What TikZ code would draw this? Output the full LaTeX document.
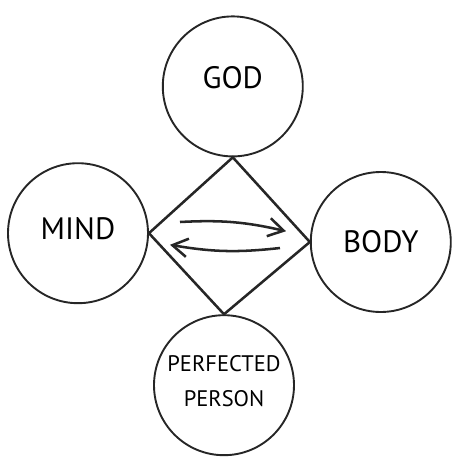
\documentclass[tikz,border=0pt]{standalone}
\usepackage{fontspec}
\setmainfont{PT Sans}
\usepackage{tikz}
\usetikzlibrary{arrows.meta,positioning}

\begin{document}
\begin{tikzpicture}[>={Straight Barb[length=3.8mm,width=4.6mm]}]
\tikzstyle{n}=[circle,draw=black!85,line width=1.35pt,minimum size=3.5cm,inner sep=0pt,align=center,font=\fontsize{22}{26}\selectfont]
\useasboundingbox (0,0) rectangle (11.325,-11.475);
\node[n] (god) at (5.82,-2.16) {\raisebox{1.2ex}{GOD}};
\node[n] (mind) at (1.95,-5.83) {\raisebox{0.6ex}{MIND}};
\node[n] (body) at (9.52,-6.05) {BODY};
\node[n,font=\fontsize{16}{25}\selectfont] (person) at (5.6,-9.63) {PERFECTED\\PERSON\\[-19pt]};
% diamond between the four circles
\draw[black!85,line width=1.8pt,line join=miter] (god.south) -- (body.west) -- (person.north) -- (mind.east) -- cycle;
\coordinate (a1) at (4.5,-5.55);
\coordinate (a2) at (7.15,-5.78);
\coordinate (b1) at (7.0,-6.2);
\coordinate (b2) at (4.25,-6.12);
\draw[->,black!85,line width=1.8pt] (a1) to[bend left=8] (a2);
\draw[->,black!85,line width=1.8pt] (b1) to[bend left=8] (b2);
\end{tikzpicture}
\end{document}
